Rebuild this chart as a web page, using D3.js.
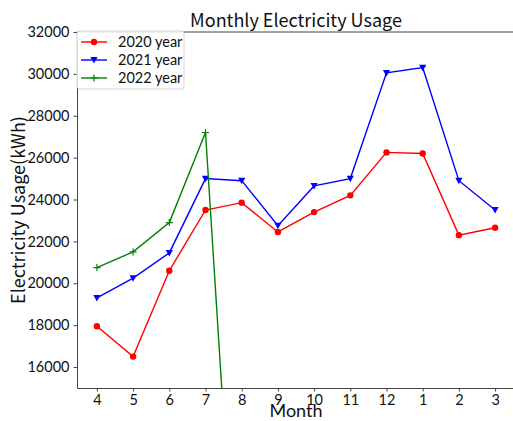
<!DOCTYPE html>
<html>
<head>
<meta charset="utf-8">
<script src="https://cdn.jsdelivr.net/npm/d3@7"></script>
<style>
  html, body { margin: 0; padding: 0; background: #fff; }
  svg { display: block; }
  text { font-family: "Noto Sans CJK JP", "Noto Sans", sans-serif; fill: #111; }
</style>
</head>
<body>
<svg id="chart" width="513" height="421"></svg>
<script>
const months = ["4", "5", "6", "7", "8", "9", "10", "11", "12", "1", "2", "3"];
const usage2020 = [17950, 16500, 20600, 23500, 23850, 22450, 23400, 24200, 26250, 26200, 22300, 22650];
const usage2021 = [19300, 20250, 21450, 25000, 24900, 22750, 24650, 25000, 30050, 30300, 24900, 23500];
const usage2022 = [20750, 21500, 22900, 27200, 0, 0, 0, 0, 0, 0, 0, 0];
const yTicks = [16000, 18000, 20000, 22000, 24000, 26000, 28000, 30000, 32000];
const seriesNames = ["2020 year", "2021 year", "2022 year"];
const seriesColors = ["#ff0000", "#0000ff", "#008000"];
const seriesMarkers = ["circle", "triangleDown", "plus"];

const series = [usage2020, usage2021, usage2022].map((vals, i) => ({
  name: seriesNames[i], color: seriesColors[i], marker: seriesMarkers[i], values: vals
}));

const tightFont = 'Lato, "Noto Sans", sans-serif';
const svg = d3.select("#chart");
const mLeft = 77, mRight = 515, mTop = 32, mBottom = 388;

const x = d3.scaleLinear().domain([-0.55, months.length - 1 + 0.55]).range([mLeft, mRight]);
const y = d3.scaleLinear().domain([15000, 32000]).range([mBottom, mTop]);

svg.append("defs").append("clipPath").attr("id", "plotclip")
  .append("rect").attr("x", mLeft).attr("y", mTop).attr("width", mRight - mLeft).attr("height", mBottom - mTop);

// Axes
const xAxis = d3.axisBottom(x).tickValues(d3.range(months.length)).tickFormat(i => months[i]).tickSizeInner(3.5).tickSizeOuter(0).tickPadding(3);
const yAxis = d3.axisLeft(y).tickValues(yTicks).tickFormat(d3.format("d")).tickSizeInner(3.5).tickSizeOuter(0).tickPadding(4);

const gx = svg.append("g").attr("transform", `translate(0,${mBottom})`).call(xAxis);
const gy = svg.append("g").attr("transform", `translate(${mLeft},0)`).call(yAxis);
[gx, gy].forEach(g => {
  g.selectAll("path.domain").attr("stroke", "#444").attr("stroke-width", 1);
  g.selectAll(".tick line").attr("stroke", "#444");
  g.selectAll(".tick text").style("font-size", "14.5px").style("fill", "#111")
    .style("font-family", tightFont);
});
// top spine
svg.append("line").attr("x1", mLeft).attr("x2", mRight).attr("y1", mTop).attr("y2", mTop)
  .attr("stroke", "#444").attr("stroke-width", 1);

// Lines
const line = d3.line().x((d, i) => x(i)).y(d => y(d));
const plot = svg.append("g").attr("clip-path", "url(#plotclip)");

function drawMarker(g, type, color, cx, cy) {
  if (type === "circle") {
    g.append("circle").attr("cx", cx).attr("cy", cy).attr("r", 3.2).attr("fill", color);
  } else if (type === "triangleDown") {
    const s = 3.6;
    g.append("path").attr("d", `M${cx - s},${cy - s * 0.8}L${cx + s},${cy - s * 0.8}L${cx},${cy + s}Z`).attr("fill", color);
  } else {
    const s = 3.5;
    g.append("path").attr("d", `M${cx - s},${cy}L${cx + s},${cy}M${cx},${cy - s}L${cx},${cy + s}`)
      .attr("stroke", color).attr("stroke-width", 1.2).attr("fill", "none");
  }
}

series.forEach(s => {
  plot.append("path").datum(s.values).attr("d", line)
    .attr("fill", "none").attr("stroke", s.color).attr("stroke-width", 1.4);
  const mg = plot.append("g");
  s.values.forEach((v, i) => drawMarker(mg, s.marker, s.color, x(i), y(v)));
});

// Title and axis labels
const cxm = (mLeft + mRight) / 2;
svg.append("text").attr("x", cxm).attr("y", 27).attr("text-anchor", "middle")
  .style("font-size", "18px").text("Monthly Electricity Usage");
svg.append("text").attr("x", cxm).attr("y", 417).attr("text-anchor", "middle")
  .style("font-size", "18px").style("font-family", tightFont).text("Month");
svg.append("text").attr("transform", `translate(25,${(mTop + mBottom) / 2}) rotate(-90)`)
  .attr("text-anchor", "middle").style("font-size", "18px").text("Electricity Usage(kWh)");

// Legend
const lg = svg.append("g");
lg.append("rect").attr("x", 77).attr("y", 31).attr("width", 107).attr("height", 58)
  .attr("rx", 3).attr("fill", "#fff").attr("fill-opacity", 0.85).attr("stroke", "#d6d6d6");
series.forEach((s, i) => {
  const ly = 42 + i * 18;
  lg.append("line").attr("x1", 81).attr("x2", 107).attr("y1", ly).attr("y2", ly)
    .attr("stroke", s.color).attr("stroke-width", 1.4);
  drawMarker(lg, s.marker, s.color, 94, ly);
  lg.append("text").attr("x", 118).attr("y", ly + 5).style("font-size", "14.5px")
    .style("font-family", tightFont).text(s.name);
});
</script>
</body>
</html>
